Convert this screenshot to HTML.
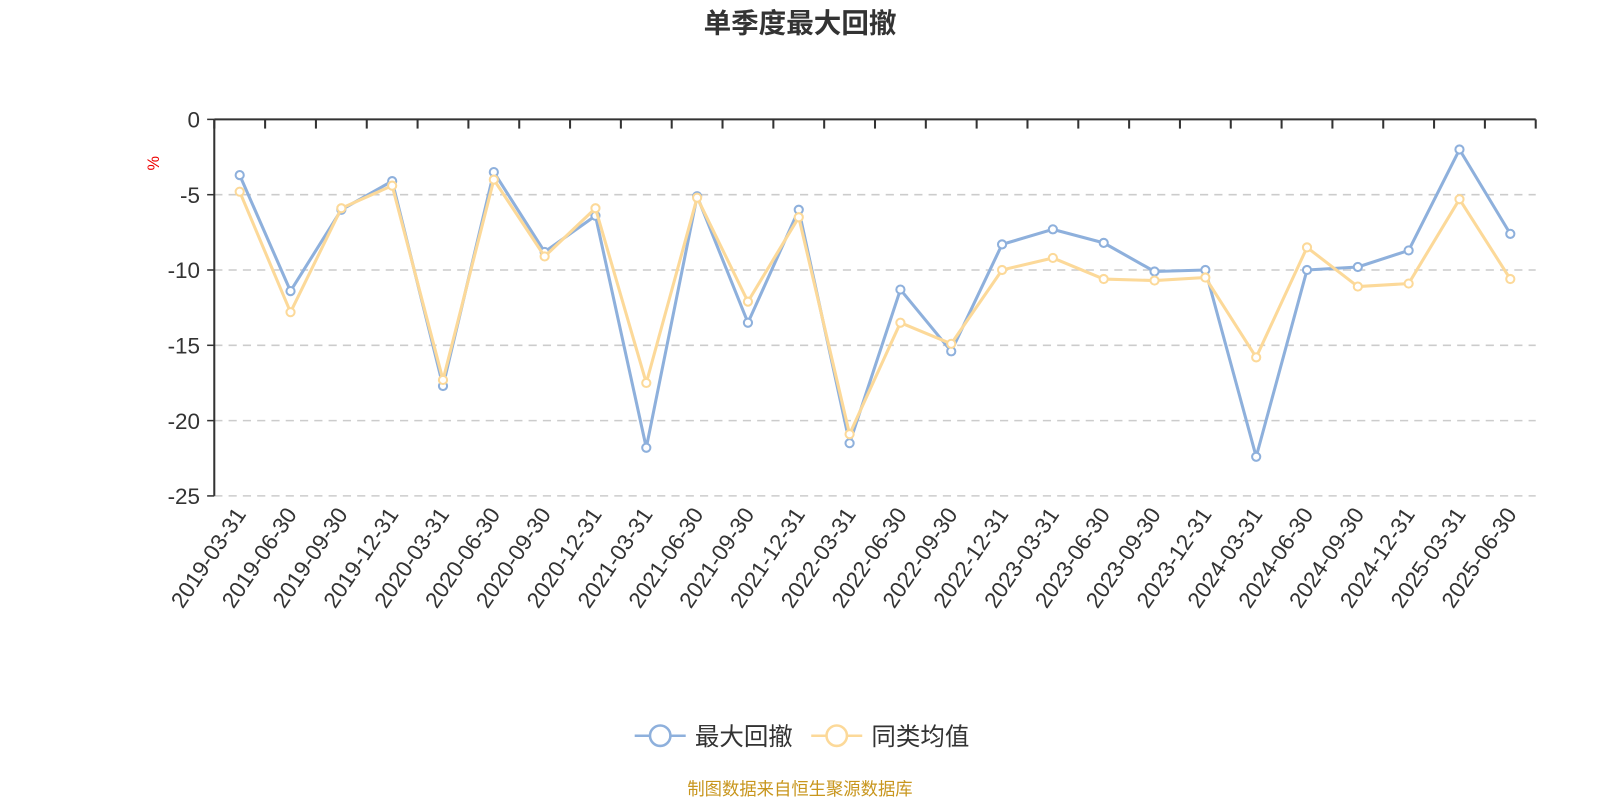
<!DOCTYPE html>
<html><head><meta charset="utf-8"><style>
body{margin:0;background:#fff;}
svg{display:block;font-family:"Liberation Sans","Noto Sans CJK SC",sans-serif;}
</style></head><body>
<svg id="chart" width="1600" height="800" viewBox="0 0 1568 784" preserveAspectRatio="none">
<text x="784" y="32" text-anchor="middle" font-size="27" font-weight="bold" fill="#333">单季度最大回撤</text>
<text transform="translate(156,160) rotate(-90)" text-anchor="middle" font-size="16" fill="#e00">%</text>
<g id="grid"></g><g id="series"></g>
<g>
<g>
<line x1="622" y1="721" x2="672" y2="721" stroke="#8eb0dc" stroke-width="2.5"/>
<circle cx="647" cy="721" r="10" fill="#fff" stroke="#8eb0dc" stroke-width="2.5"/>
<text x="681" y="730" font-size="24" fill="#333">最大回撤</text></g>
<g>
<line x1="795" y1="721" x2="845" y2="721" stroke="#fcd999" stroke-width="2.5"/>
<circle cx="820" cy="721" r="10" fill="#fff" stroke="#fcd999" stroke-width="2.5"/>
<text x="854" y="730" font-size="24" fill="#333">同类均值</text></g>
</g>
<text x="784" y="779" text-anchor="middle" font-size="17" fill="#c8961e">制图数据来自恒生聚源数据库</text>
</svg>
<script>
const categories=["2019-03-31","2019-06-30","2019-09-30","2019-12-31","2020-03-31","2020-06-30","2020-09-30","2020-12-31","2021-03-31","2021-06-30","2021-09-30","2021-12-31","2022-03-31","2022-06-30","2022-09-30","2022-12-31","2023-03-31","2023-06-30","2023-09-30","2023-12-31","2024-03-31","2024-06-30","2024-09-30","2024-12-31","2025-03-31","2025-06-30"];
const maxDrawdown=[-3.7,-11.4,-6.0,-4.1,-17.7,-3.5,-8.8,-6.4,-21.8,-5.1,-13.5,-6.0,-21.5,-11.3,-15.4,-8.3,-7.3,-8.2,-10.1,-10.0,-22.4,-10.0,-9.8,-8.7,-2.0,-7.6];
const peerAverage=[-4.8,-12.8,-5.9,-4.4,-17.3,-4.0,-9.1,-5.9,-17.5,-5.2,-12.1,-6.5,-20.9,-13.5,-14.9,-10.0,-9.2,-10.6,-10.7,-10.5,-15.8,-8.5,-11.1,-10.9,-5.3,-10.6];
const yTicks=[0,-5,-10,-15,-20,-25];
const NS="http://www.w3.org/2000/svg";
const L=210,R=1505,T=117,B=486,yMin=-25,yMax=0;
const band=(R-L)/categories.length;
const xPos=i=>L+band*(i+0.5);
const yPos=v=>T+(yMax-v)/(yMax-yMin)*(B-T);
function mk(tag,attrs,parent){const e=document.createElementNS(NS,tag);for(const k in attrs)e.setAttribute(k,attrs[k]);parent.appendChild(e);return e;}
const g=document.getElementById('grid'),s=document.getElementById('series');
yTicks.forEach(v=>{
  const y=yPos(v);
  if(v!==0){const gl=mk('line',{x1:L,x2:R,y1:y,y2:y,stroke:'#ccc','stroke-width':1.5,'stroke-dasharray':'8,6'},g);
  
  }
  mk('line',{x1:L-7,x2:L,y1:y,y2:y,stroke:'#333','stroke-width':1.5},g);
  const t=mk('text',{x:L-14,y:y+8,'text-anchor':'end','font-size':22,fill:'#333'},g);
  t.textContent=v;
  
  
});
const ya=mk('line',{x1:L,x2:L,y1:T,y2:B,stroke:'#333','stroke-width':2},g);


const xa=mk('line',{x1:L,x2:R,y1:T,y2:T,stroke:'#333','stroke-width':2},g);


for(let i=0;i<=categories.length;i++){const x=L+band*i;mk('line',{x1:x,x2:x,y1:T,y2:T+9,stroke:'#333','stroke-width':2},g);}
categories.forEach((c,i)=>{
  const x=xPos(i)+7,y=B+18;
  const t=mk('text',{x:x,y:y,transform:`rotate(-56 ${x} ${y})`,'text-anchor':'end','font-size':22,fill:'#333'},g);
  t.textContent=c;
  
  
});
function drawSeries(data,color,name){
  const pl=mk('polyline',{points:data.map((v,i)=>xPos(i)+','+yPos(v)).join(' '),fill:'none',stroke:color,'stroke-width':3,'stroke-linejoin':'round'},s);
  
  
  data.forEach((v,i)=>{
    const c=mk('circle',{cx:xPos(i),cy:yPos(v),r:4,fill:'#fff',stroke:color,'stroke-width':2},s);
    
    
  });
}
drawSeries(maxDrawdown,'#8eb0dc','max-drawdown');
drawSeries(peerAverage,'#fcd999','peer-average');
</script>
</body></html>
